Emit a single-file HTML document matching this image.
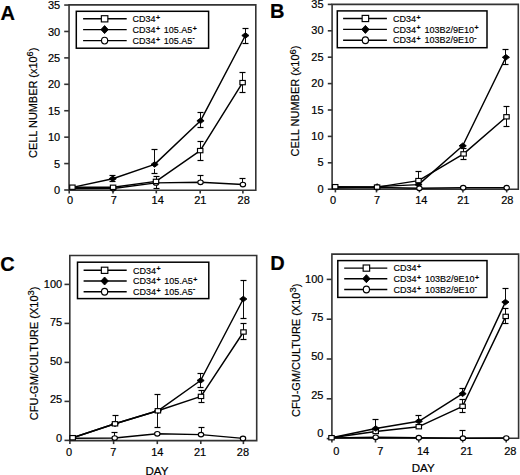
<!DOCTYPE html>
<html><head><meta charset="utf-8"><style>
html,body{margin:0;padding:0;background:#fff;}
svg{display:block;font-family:"Liberation Sans", sans-serif;}
text{fill:#000;stroke:#000;stroke-width:0.2px;}
text.lg{stroke-width:0.15px;}
</style></head><body>
<svg width="520" height="475" viewBox="0 0 520 475">
<rect width="520" height="475" fill="#fff"/>
<path d="M69.05,4.9 H255.8 V190.2 H69.05 Z" fill="none" stroke="#333" stroke-width="1.6"/>
<line x1="64.2" y1="190" x2="69.05" y2="190" stroke="#333" stroke-width="1.6"/>
<text x="60.2" y="194.1" font-size="11" text-anchor="end" font-weight="normal" >0</text>
<line x1="64.2" y1="163.58" x2="69.05" y2="163.58" stroke="#333" stroke-width="1.6"/>
<text x="60.2" y="167.68" font-size="11" text-anchor="end" font-weight="normal" >5</text>
<line x1="64.2" y1="137.16" x2="69.05" y2="137.16" stroke="#333" stroke-width="1.6"/>
<text x="60.2" y="141.26" font-size="11" text-anchor="end" font-weight="normal" >10</text>
<line x1="64.2" y1="110.74" x2="69.05" y2="110.74" stroke="#333" stroke-width="1.6"/>
<text x="60.2" y="114.84" font-size="11" text-anchor="end" font-weight="normal" >15</text>
<line x1="64.2" y1="84.31" x2="69.05" y2="84.31" stroke="#333" stroke-width="1.6"/>
<text x="60.2" y="88.41" font-size="11" text-anchor="end" font-weight="normal" >20</text>
<line x1="64.2" y1="57.89" x2="69.05" y2="57.89" stroke="#333" stroke-width="1.6"/>
<text x="60.2" y="61.99" font-size="11" text-anchor="end" font-weight="normal" >25</text>
<line x1="64.2" y1="31.47" x2="69.05" y2="31.47" stroke="#333" stroke-width="1.6"/>
<text x="60.2" y="35.57" font-size="11" text-anchor="end" font-weight="normal" >30</text>
<line x1="64.2" y1="5.05" x2="69.05" y2="5.05" stroke="#333" stroke-width="1.6"/>
<text x="60.2" y="9.15" font-size="11" text-anchor="end" font-weight="normal" >35</text>
<line x1="69.2" y1="190.2" x2="69.2" y2="193.4" stroke="#333" stroke-width="1.6"/>
<text x="70" y="203.6" font-size="11" text-anchor="middle" font-weight="normal" >0</text>
<line x1="113" y1="190.2" x2="113" y2="193.4" stroke="#333" stroke-width="1.6"/>
<text x="113.8" y="203.6" font-size="11" text-anchor="middle" font-weight="normal" >7</text>
<line x1="156.3" y1="190.2" x2="156.3" y2="193.4" stroke="#333" stroke-width="1.6"/>
<text x="157.7" y="203.6" font-size="11" text-anchor="middle" font-weight="normal" >14</text>
<line x1="200.2" y1="190.2" x2="200.2" y2="193.4" stroke="#333" stroke-width="1.6"/>
<text x="200.3" y="203.6" font-size="11" text-anchor="middle" font-weight="normal" >21</text>
<line x1="242.9" y1="190.2" x2="242.9" y2="193.4" stroke="#333" stroke-width="1.6"/>
<text x="243.7" y="203.6" font-size="11" text-anchor="middle" font-weight="normal" >28</text>
<text transform="translate(36.5,157.9) rotate(-90)" font-size="11" textLength="110.3" lengthAdjust="spacingAndGlyphs">CELL NUMBER (x10<tspan dy="-3.6" font-size="9.4">6</tspan><tspan dy="3.6">)</tspan></text>
<text x="0.6" y="19.9" font-size="20" text-anchor="start" font-weight="bold" >A</text>
<rect x="76.3" y="11.3" width="132.3" height="36.9" fill="#fff" stroke="#000" stroke-width="1.5"/>
<line x1="83.1" y1="18.8" x2="126.7" y2="18.8" stroke="#000" stroke-width="1.4"/>
<rect x="101.35" y="15.7" width="6.5" height="6.2" fill="#fff" stroke="#000" stroke-width="1.15"/>
<text x="132.4" y="22" font-size="9" text-anchor="start" font-weight="normal" class="lg">CD34<tspan dx="0.5" dy="-2.2" font-size="7" font-weight="bold">+</tspan></text>
<line x1="83.1" y1="29.6" x2="126.7" y2="29.6" stroke="#000" stroke-width="1.4"/>
<polygon points="104.6,25.6 108.3,29.6 104.6,33.6 100.9,29.6" fill="#000" stroke="#000" stroke-width="0.9" stroke-linejoin="round"/>
<text x="132.4" y="32.8" font-size="9" text-anchor="start" font-weight="normal" class="lg">CD34<tspan dx="0.5" dy="-2.2" font-size="7" font-weight="bold">+</tspan><tspan dy="2.2" dx="1.3"> 105.A5</tspan><tspan dx="0.5" dy="-2.2" font-size="7" font-weight="bold">+</tspan></text>
<line x1="83.1" y1="40.6" x2="126.7" y2="40.6" stroke="#000" stroke-width="1.4"/>
<ellipse cx="104.6" cy="40.6" rx="3.1" ry="3.35" fill="#fff" stroke="#000" stroke-width="1.15"/>
<text x="132.4" y="43.8" font-size="9" text-anchor="start" font-weight="normal" class="lg">CD34<tspan dx="0.5" dy="-2.2" font-size="7" font-weight="bold">+</tspan><tspan dy="2.2" dx="1.3"> 105.A5</tspan><tspan dy="-3.6" font-size="7.5" font-weight="bold">-</tspan></text>
<polyline points="72.4,188.7 113.1,188.5 156,182.9 200.5,182.3 242.9,184.5" fill="none" stroke="#000" stroke-width="1.45" stroke-linejoin="round"/>
<polyline points="72.4,187.2 113.1,187.3 156,181.4 200.2,150.6 242.6,82.6" fill="none" stroke="#000" stroke-width="1.45" stroke-linejoin="round"/>
<polyline points="72.4,187.4 112.7,178.7 154.6,164.4 200.5,120.8 245.4,35.5" fill="none" stroke="#000" stroke-width="1.45" stroke-linejoin="round"/>
<line x1="156.5" y1="182.9" x2="156.5" y2="188.5" stroke="#000" stroke-width="0.95"/>
<line x1="153.5" y1="188.5" x2="159.5" y2="188.5" stroke="#000" stroke-width="1.2"/>
<line x1="200.5" y1="182.3" x2="200.5" y2="175.5" stroke="#000" stroke-width="0.95"/>
<line x1="197.5" y1="175.5" x2="203.5" y2="175.5" stroke="#000" stroke-width="1.2"/>
<line x1="242.5" y1="184.5" x2="242.5" y2="178.5" stroke="#000" stroke-width="0.95"/>
<line x1="239.5" y1="178.5" x2="245.5" y2="178.5" stroke="#000" stroke-width="1.2"/>
<line x1="156.5" y1="181.4" x2="156.5" y2="176.5" stroke="#000" stroke-width="0.95"/>
<line x1="153.5" y1="176.5" x2="159.5" y2="176.5" stroke="#000" stroke-width="1.2"/>
<line x1="200.5" y1="150.6" x2="200.5" y2="141.5" stroke="#000" stroke-width="0.95"/>
<line x1="197.5" y1="141.5" x2="203.5" y2="141.5" stroke="#000" stroke-width="1.2"/>
<line x1="200.5" y1="150.6" x2="200.5" y2="160.5" stroke="#000" stroke-width="0.95"/>
<line x1="197.5" y1="160.5" x2="203.5" y2="160.5" stroke="#000" stroke-width="1.2"/>
<line x1="242.5" y1="82.6" x2="242.5" y2="72.5" stroke="#000" stroke-width="0.95"/>
<line x1="239.5" y1="72.5" x2="245.5" y2="72.5" stroke="#000" stroke-width="1.2"/>
<line x1="242.5" y1="82.6" x2="242.5" y2="92.5" stroke="#000" stroke-width="0.95"/>
<line x1="239.5" y1="92.5" x2="245.5" y2="92.5" stroke="#000" stroke-width="1.2"/>
<line x1="112.5" y1="178.7" x2="112.5" y2="175.5" stroke="#000" stroke-width="0.95"/>
<line x1="109.5" y1="175.5" x2="115.5" y2="175.5" stroke="#000" stroke-width="1.2"/>
<line x1="112.5" y1="178.7" x2="112.5" y2="181.5" stroke="#000" stroke-width="0.95"/>
<line x1="109.5" y1="181.5" x2="115.5" y2="181.5" stroke="#000" stroke-width="1.2"/>
<line x1="154.5" y1="164.4" x2="154.5" y2="149.5" stroke="#000" stroke-width="0.95"/>
<line x1="151.5" y1="149.5" x2="157.5" y2="149.5" stroke="#000" stroke-width="1.2"/>
<line x1="154.5" y1="169" x2="154.5" y2="173.5" stroke="#000" stroke-width="0.95"/>
<line x1="151.5" y1="173.5" x2="157.5" y2="173.5" stroke="#000" stroke-width="1.2"/>
<line x1="200.5" y1="120.8" x2="200.5" y2="112.5" stroke="#000" stroke-width="0.95"/>
<line x1="197.5" y1="112.5" x2="203.5" y2="112.5" stroke="#000" stroke-width="1.2"/>
<line x1="200.5" y1="120.8" x2="200.5" y2="127.5" stroke="#000" stroke-width="0.95"/>
<line x1="197.5" y1="127.5" x2="203.5" y2="127.5" stroke="#000" stroke-width="1.2"/>
<line x1="245.5" y1="35.5" x2="245.5" y2="28.5" stroke="#000" stroke-width="0.95"/>
<line x1="242.5" y1="28.5" x2="248.5" y2="28.5" stroke="#000" stroke-width="1.2"/>
<line x1="245.5" y1="35.5" x2="245.5" y2="43.5" stroke="#000" stroke-width="0.95"/>
<line x1="242.5" y1="43.5" x2="248.5" y2="43.5" stroke="#000" stroke-width="1.2"/>
<polygon points="112.7,175.9 116.3,178.7 112.7,181.5 109.1,178.7" fill="#000" stroke="#000" stroke-width="0.9" stroke-linejoin="round"/>
<polygon points="154.6,161.6 158.2,164.4 154.6,167.2 151,164.4" fill="#000" stroke="#000" stroke-width="0.9" stroke-linejoin="round"/>
<polygon points="200.5,118 204.1,120.8 200.5,123.6 196.9,120.8" fill="#000" stroke="#000" stroke-width="0.9" stroke-linejoin="round"/>
<polygon points="245.4,32.7 249,35.5 245.4,38.3 241.8,35.5" fill="#000" stroke="#000" stroke-width="0.9" stroke-linejoin="round"/>
<ellipse cx="113.1" cy="188.5" rx="2.7" ry="2.3" fill="#fff" stroke="#000" stroke-width="1.15"/>
<ellipse cx="156" cy="182.9" rx="2.7" ry="2.3" fill="#fff" stroke="#000" stroke-width="1.15"/>
<ellipse cx="200.5" cy="182.3" rx="2.7" ry="2.3" fill="#fff" stroke="#000" stroke-width="1.15"/>
<ellipse cx="242.9" cy="184.5" rx="2.7" ry="2.3" fill="#fff" stroke="#000" stroke-width="1.15"/>
<rect x="69.7" y="185.05" width="5.4" height="4.3" fill="#fff" stroke="#000" stroke-width="1.15"/>
<rect x="110.4" y="185.15" width="5.4" height="4.3" fill="#fff" stroke="#000" stroke-width="1.15"/>
<rect x="153.3" y="179.25" width="5.4" height="4.3" fill="#fff" stroke="#000" stroke-width="1.15"/>
<rect x="197.5" y="148.45" width="5.4" height="4.3" fill="#fff" stroke="#000" stroke-width="1.15"/>
<rect x="239.9" y="80.45" width="5.4" height="4.3" fill="#fff" stroke="#000" stroke-width="1.15"/>
<path d="M332.1,4.4 H518.3 V189.2 H332.1 Z" fill="none" stroke="#333" stroke-width="1.6"/>
<line x1="327.8" y1="189.2" x2="332.1" y2="189.2" stroke="#333" stroke-width="1.6"/>
<text x="323.6" y="192.8" font-size="11" text-anchor="end" font-weight="normal" >0</text>
<line x1="327.8" y1="162.8" x2="332.1" y2="162.8" stroke="#333" stroke-width="1.6"/>
<text x="323.6" y="166.4" font-size="11" text-anchor="end" font-weight="normal" >5</text>
<line x1="327.8" y1="136.4" x2="332.1" y2="136.4" stroke="#333" stroke-width="1.6"/>
<text x="323.6" y="140" font-size="11" text-anchor="end" font-weight="normal" >10</text>
<line x1="327.8" y1="110" x2="332.1" y2="110" stroke="#333" stroke-width="1.6"/>
<text x="323.6" y="113.6" font-size="11" text-anchor="end" font-weight="normal" >15</text>
<line x1="327.8" y1="83.6" x2="332.1" y2="83.6" stroke="#333" stroke-width="1.6"/>
<text x="323.6" y="87.2" font-size="11" text-anchor="end" font-weight="normal" >20</text>
<line x1="327.8" y1="57.2" x2="332.1" y2="57.2" stroke="#333" stroke-width="1.6"/>
<text x="323.6" y="60.8" font-size="11" text-anchor="end" font-weight="normal" >25</text>
<line x1="327.8" y1="30.8" x2="332.1" y2="30.8" stroke="#333" stroke-width="1.6"/>
<text x="323.6" y="34.4" font-size="11" text-anchor="end" font-weight="normal" >30</text>
<line x1="327.8" y1="4.4" x2="332.1" y2="4.4" stroke="#333" stroke-width="1.6"/>
<text x="323.6" y="8" font-size="11" text-anchor="end" font-weight="normal" >35</text>
<line x1="335.4" y1="189.2" x2="335.4" y2="192.4" stroke="#333" stroke-width="1.6"/>
<text x="333" y="203.9" font-size="11" text-anchor="middle" font-weight="normal" >0</text>
<line x1="376.5" y1="189.2" x2="376.5" y2="192.4" stroke="#333" stroke-width="1.6"/>
<text x="377" y="203.9" font-size="11" text-anchor="middle" font-weight="normal" >7</text>
<line x1="419.4" y1="189.2" x2="419.4" y2="192.4" stroke="#333" stroke-width="1.6"/>
<text x="421.3" y="203.9" font-size="11" text-anchor="middle" font-weight="normal" >14</text>
<line x1="462.9" y1="189.2" x2="462.9" y2="192.4" stroke="#333" stroke-width="1.6"/>
<text x="463.3" y="203.9" font-size="11" text-anchor="middle" font-weight="normal" >21</text>
<line x1="506.7" y1="189.2" x2="506.7" y2="192.4" stroke="#333" stroke-width="1.6"/>
<text x="507.3" y="203.9" font-size="11" text-anchor="middle" font-weight="normal" >28</text>
<text transform="translate(299.3,156.5) rotate(-90)" font-size="11" textLength="110.9" lengthAdjust="spacingAndGlyphs">CELL NUMBER (x10<tspan dy="-3.6" font-size="9.4">6</tspan><tspan dy="3.6">)</tspan></text>
<text x="270" y="18.1" font-size="20" text-anchor="start" font-weight="bold" >B</text>
<rect x="337.3" y="10.9" width="149.7" height="36.8" fill="#fff" stroke="#000" stroke-width="1.5"/>
<line x1="343.1" y1="18.5" x2="386.9" y2="18.5" stroke="#000" stroke-width="1.4"/>
<rect x="362.15" y="15.4" width="6.5" height="6.2" fill="#fff" stroke="#000" stroke-width="1.15"/>
<text x="393.1" y="21.7" font-size="9" text-anchor="start" font-weight="normal" class="lg">CD34<tspan dx="0.5" dy="-2.2" font-size="7" font-weight="bold">+</tspan></text>
<line x1="343.1" y1="29.4" x2="386.9" y2="29.4" stroke="#000" stroke-width="1.4"/>
<polygon points="365.4,25.4 369.1,29.4 365.4,33.4 361.7,29.4" fill="#000" stroke="#000" stroke-width="0.9" stroke-linejoin="round"/>
<text x="393.1" y="32.6" font-size="9" text-anchor="start" font-weight="normal" class="lg">CD34<tspan dx="0.5" dy="-2.2" font-size="7" font-weight="bold">+</tspan><tspan dy="2.2" dx="1.3"> 103B2/9E10</tspan><tspan dx="0.5" dy="-2.2" font-size="7" font-weight="bold">+</tspan></text>
<line x1="343.1" y1="40.2" x2="386.9" y2="40.2" stroke="#000" stroke-width="1.4"/>
<ellipse cx="365.4" cy="40.2" rx="3.1" ry="3.35" fill="#fff" stroke="#000" stroke-width="1.15"/>
<text x="393.1" y="43.4" font-size="9" text-anchor="start" font-weight="normal" class="lg">CD34<tspan dx="0.5" dy="-2.2" font-size="7" font-weight="bold">+</tspan><tspan dy="2.2" dx="1.3"> 103B2/9E10</tspan><tspan dy="-3.6" font-size="7.5" font-weight="bold">-</tspan></text>
<polyline points="335.2,188 377.1,187.5 419.4,188.3 463.2,187.7 506.7,187.7" fill="none" stroke="#000" stroke-width="1.45" stroke-linejoin="round"/>
<polyline points="335.2,186.7 377.1,187.1 418.5,180.6 463.6,153.9 506.5,116.8" fill="none" stroke="#000" stroke-width="1.45" stroke-linejoin="round"/>
<polyline points="335.2,187.2 377.1,186.6 418.5,184.6 462.7,145.8 505.9,57.3" fill="none" stroke="#000" stroke-width="1.45" stroke-linejoin="round"/>
<line x1="418.5" y1="180.6" x2="418.5" y2="171.5" stroke="#000" stroke-width="0.95"/>
<line x1="415.5" y1="171.5" x2="421.5" y2="171.5" stroke="#000" stroke-width="1.2"/>
<line x1="463.5" y1="153.9" x2="463.5" y2="148.5" stroke="#000" stroke-width="0.95"/>
<line x1="460.5" y1="148.5" x2="466.5" y2="148.5" stroke="#000" stroke-width="1.2"/>
<line x1="463.5" y1="153.9" x2="463.5" y2="159.5" stroke="#000" stroke-width="0.95"/>
<line x1="460.5" y1="159.5" x2="466.5" y2="159.5" stroke="#000" stroke-width="1.2"/>
<line x1="506.5" y1="116.8" x2="506.5" y2="106.5" stroke="#000" stroke-width="0.95"/>
<line x1="503.5" y1="106.5" x2="509.5" y2="106.5" stroke="#000" stroke-width="1.2"/>
<line x1="506.5" y1="116.8" x2="506.5" y2="126.5" stroke="#000" stroke-width="0.95"/>
<line x1="503.5" y1="126.5" x2="509.5" y2="126.5" stroke="#000" stroke-width="1.2"/>
<line x1="505.5" y1="57.3" x2="505.5" y2="49.5" stroke="#000" stroke-width="0.95"/>
<line x1="502.5" y1="49.5" x2="508.5" y2="49.5" stroke="#000" stroke-width="1.2"/>
<line x1="505.5" y1="57.3" x2="505.5" y2="64.5" stroke="#000" stroke-width="0.95"/>
<line x1="502.5" y1="64.5" x2="508.5" y2="64.5" stroke="#000" stroke-width="1.2"/>
<polygon points="377.1,183.8 380.7,186.6 377.1,189.4 373.5,186.6" fill="#000" stroke="#000" stroke-width="0.9" stroke-linejoin="round"/>
<polygon points="418.5,181.8 422.1,184.6 418.5,187.4 414.9,184.6" fill="#000" stroke="#000" stroke-width="0.9" stroke-linejoin="round"/>
<polygon points="462.7,143 466.3,145.8 462.7,148.6 459.1,145.8" fill="#000" stroke="#000" stroke-width="0.9" stroke-linejoin="round"/>
<polygon points="505.9,54.5 509.5,57.3 505.9,60.1 502.3,57.3" fill="#000" stroke="#000" stroke-width="0.9" stroke-linejoin="round"/>
<ellipse cx="377.1" cy="187.5" rx="2.7" ry="2.3" fill="#fff" stroke="#000" stroke-width="1.15"/>
<ellipse cx="419.4" cy="188.3" rx="2.7" ry="2.3" fill="#fff" stroke="#000" stroke-width="1.15"/>
<ellipse cx="463.2" cy="187.7" rx="2.7" ry="2.3" fill="#fff" stroke="#000" stroke-width="1.15"/>
<ellipse cx="506.7" cy="187.7" rx="2.7" ry="2.3" fill="#fff" stroke="#000" stroke-width="1.15"/>
<rect x="332.5" y="184.55" width="5.4" height="4.3" fill="#fff" stroke="#000" stroke-width="1.15"/>
<rect x="374.4" y="184.95" width="5.4" height="4.3" fill="#fff" stroke="#000" stroke-width="1.15"/>
<rect x="415.8" y="178.45" width="5.4" height="4.3" fill="#fff" stroke="#000" stroke-width="1.15"/>
<rect x="460.9" y="151.75" width="5.4" height="4.3" fill="#fff" stroke="#000" stroke-width="1.15"/>
<rect x="503.8" y="114.65" width="5.4" height="4.3" fill="#fff" stroke="#000" stroke-width="1.15"/>
<path d="M69.8,255.5 H256.7 V440.6 H69.8 Z" fill="none" stroke="#333" stroke-width="1.6"/>
<line x1="64.5" y1="440.4" x2="69.8" y2="440.4" stroke="#333" stroke-width="1.6"/>
<text x="62.2" y="441.8" font-size="11" text-anchor="end" font-weight="normal" >0</text>
<line x1="64.5" y1="401.4" x2="69.8" y2="401.4" stroke="#333" stroke-width="1.6"/>
<text x="62.2" y="403.4" font-size="11" text-anchor="end" font-weight="normal" >25</text>
<line x1="64.5" y1="362.4" x2="69.8" y2="362.4" stroke="#333" stroke-width="1.6"/>
<text x="62.2" y="364.9" font-size="11" text-anchor="end" font-weight="normal" >50</text>
<line x1="64.5" y1="323.4" x2="69.8" y2="323.4" stroke="#333" stroke-width="1.6"/>
<text x="62.2" y="326.4" font-size="11" text-anchor="end" font-weight="normal" >75</text>
<line x1="64.5" y1="284.4" x2="69.8" y2="284.4" stroke="#333" stroke-width="1.6"/>
<text x="62.2" y="287.55" font-size="11" text-anchor="end" font-weight="normal" >100</text>
<line x1="69.9" y1="440.6" x2="69.9" y2="444.1" stroke="#333" stroke-width="1.6"/>
<text x="69" y="455.8" font-size="11" text-anchor="middle" font-weight="normal" >0</text>
<line x1="113.6" y1="440.6" x2="113.6" y2="444.1" stroke="#333" stroke-width="1.6"/>
<text x="113.2" y="455.8" font-size="11" text-anchor="middle" font-weight="normal" >7</text>
<line x1="157.3" y1="440.6" x2="157.3" y2="444.1" stroke="#333" stroke-width="1.6"/>
<text x="157.3" y="455.8" font-size="11" text-anchor="middle" font-weight="normal" >14</text>
<line x1="200.8" y1="440.6" x2="200.8" y2="444.1" stroke="#333" stroke-width="1.6"/>
<text x="200" y="455.8" font-size="11" text-anchor="middle" font-weight="normal" >21</text>
<line x1="243.4" y1="440.6" x2="243.4" y2="444.1" stroke="#333" stroke-width="1.6"/>
<text x="242.9" y="455.8" font-size="11" text-anchor="middle" font-weight="normal" >28</text>
<text transform="translate(38,420.3) rotate(-90)" font-size="11" textLength="133.8" lengthAdjust="spacingAndGlyphs">CFU-GM/CULTURE (X10<tspan dy="-3.6" font-size="9.4">3</tspan><tspan dy="3.6">)</tspan></text>
<text x="157" y="474.6" font-size="11.6" text-anchor="middle" font-weight="normal" >DAY</text>
<text x="0.3" y="270.6" font-size="20" text-anchor="start" font-weight="bold" >C</text>
<rect x="77.5" y="262.2" width="131.3" height="36.4" fill="#fff" stroke="#000" stroke-width="1.5"/>
<line x1="83.6" y1="270.3" x2="126.7" y2="270.3" stroke="#000" stroke-width="1.4"/>
<rect x="101.35" y="267.2" width="6.5" height="6.2" fill="#fff" stroke="#000" stroke-width="1.15"/>
<text x="132.9" y="273.5" font-size="9" text-anchor="start" font-weight="normal" class="lg">CD34<tspan dx="0.5" dy="-2.2" font-size="7" font-weight="bold">+</tspan></text>
<line x1="83.6" y1="281" x2="126.7" y2="281" stroke="#000" stroke-width="1.4"/>
<polygon points="104.6,277 108.3,281 104.6,285 100.9,281" fill="#000" stroke="#000" stroke-width="0.9" stroke-linejoin="round"/>
<text x="132.9" y="284.2" font-size="9" text-anchor="start" font-weight="normal" class="lg">CD34<tspan dx="0.5" dy="-2.2" font-size="7" font-weight="bold">+</tspan><tspan dy="2.2" dx="1.3"> 105.A5</tspan><tspan dx="0.5" dy="-2.2" font-size="7" font-weight="bold">+</tspan></text>
<line x1="83.6" y1="291.8" x2="126.7" y2="291.8" stroke="#000" stroke-width="1.4"/>
<ellipse cx="104.6" cy="291.8" rx="3.1" ry="3.35" fill="#fff" stroke="#000" stroke-width="1.15"/>
<text x="132.9" y="295" font-size="9" text-anchor="start" font-weight="normal" class="lg">CD34<tspan dx="0.5" dy="-2.2" font-size="7" font-weight="bold">+</tspan><tspan dy="2.2" dx="1.3"> 105.A5</tspan><tspan dy="-3.6" font-size="7.5" font-weight="bold">-</tspan></text>
<polyline points="72.7,438.2 114.7,438 157.3,433.8 201,434.6 243,438.4" fill="none" stroke="#000" stroke-width="1.45" stroke-linejoin="round"/>
<polyline points="72.7,437.7 115,423.8 157.9,410.8 201,396.4 243.5,332" fill="none" stroke="#000" stroke-width="1.45" stroke-linejoin="round"/>
<polyline points="72.7,437.7 115,423.8 157.9,410.8 200.6,380.5 243.3,299" fill="none" stroke="#000" stroke-width="1.45" stroke-linejoin="round"/>
<line x1="114.5" y1="438" x2="114.5" y2="432.5" stroke="#000" stroke-width="0.95"/>
<line x1="111.5" y1="432.5" x2="117.5" y2="432.5" stroke="#000" stroke-width="1.2"/>
<line x1="201.5" y1="434.6" x2="201.5" y2="427.5" stroke="#000" stroke-width="0.95"/>
<line x1="198.5" y1="427.5" x2="204.5" y2="427.5" stroke="#000" stroke-width="1.2"/>
<line x1="115.5" y1="423.8" x2="115.5" y2="415.5" stroke="#000" stroke-width="0.95"/>
<line x1="112.5" y1="415.5" x2="118.5" y2="415.5" stroke="#000" stroke-width="1.2"/>
<line x1="157.5" y1="410.8" x2="157.5" y2="394.5" stroke="#000" stroke-width="0.95"/>
<line x1="154.5" y1="394.5" x2="160.5" y2="394.5" stroke="#000" stroke-width="1.2"/>
<line x1="157.5" y1="410.8" x2="157.5" y2="427.5" stroke="#000" stroke-width="0.95"/>
<line x1="154.5" y1="427.5" x2="160.5" y2="427.5" stroke="#000" stroke-width="1.2"/>
<line x1="201.5" y1="396.4" x2="201.5" y2="390.5" stroke="#000" stroke-width="0.95"/>
<line x1="198.5" y1="390.5" x2="204.5" y2="390.5" stroke="#000" stroke-width="1.2"/>
<line x1="201.5" y1="396.4" x2="201.5" y2="402.5" stroke="#000" stroke-width="0.95"/>
<line x1="198.5" y1="402.5" x2="204.5" y2="402.5" stroke="#000" stroke-width="1.2"/>
<line x1="243.5" y1="332" x2="243.5" y2="323.5" stroke="#000" stroke-width="0.95"/>
<line x1="240.5" y1="323.5" x2="246.5" y2="323.5" stroke="#000" stroke-width="1.2"/>
<line x1="243.5" y1="332" x2="243.5" y2="339.5" stroke="#000" stroke-width="0.95"/>
<line x1="240.5" y1="339.5" x2="246.5" y2="339.5" stroke="#000" stroke-width="1.2"/>
<line x1="200.5" y1="380.5" x2="200.5" y2="373.5" stroke="#000" stroke-width="0.95"/>
<line x1="197.5" y1="373.5" x2="203.5" y2="373.5" stroke="#000" stroke-width="1.2"/>
<line x1="200.5" y1="380.5" x2="200.5" y2="387.5" stroke="#000" stroke-width="0.95"/>
<line x1="197.5" y1="387.5" x2="203.5" y2="387.5" stroke="#000" stroke-width="1.2"/>
<line x1="243.5" y1="299" x2="243.5" y2="280.5" stroke="#000" stroke-width="0.95"/>
<line x1="240.5" y1="280.5" x2="246.5" y2="280.5" stroke="#000" stroke-width="1.2"/>
<line x1="243.5" y1="299" x2="243.5" y2="318.5" stroke="#000" stroke-width="0.95"/>
<line x1="240.5" y1="318.5" x2="246.5" y2="318.5" stroke="#000" stroke-width="1.2"/>
<polygon points="115,421 118.6,423.8 115,426.6 111.4,423.8" fill="#000" stroke="#000" stroke-width="0.9" stroke-linejoin="round"/>
<polygon points="157.9,408 161.5,410.8 157.9,413.6 154.3,410.8" fill="#000" stroke="#000" stroke-width="0.9" stroke-linejoin="round"/>
<polygon points="200.6,377.7 204.2,380.5 200.6,383.3 197,380.5" fill="#000" stroke="#000" stroke-width="0.9" stroke-linejoin="round"/>
<polygon points="243.3,296.2 246.9,299 243.3,301.8 239.7,299" fill="#000" stroke="#000" stroke-width="0.9" stroke-linejoin="round"/>
<ellipse cx="114.7" cy="438" rx="2.7" ry="2.3" fill="#fff" stroke="#000" stroke-width="1.15"/>
<ellipse cx="157.3" cy="433.8" rx="2.7" ry="2.3" fill="#fff" stroke="#000" stroke-width="1.15"/>
<ellipse cx="201" cy="434.6" rx="2.7" ry="2.3" fill="#fff" stroke="#000" stroke-width="1.15"/>
<ellipse cx="243" cy="438.4" rx="2.7" ry="2.3" fill="#fff" stroke="#000" stroke-width="1.15"/>
<rect x="70" y="435.55" width="5.4" height="4.3" fill="#fff" stroke="#000" stroke-width="1.15"/>
<rect x="112.3" y="421.65" width="5.4" height="4.3" fill="#fff" stroke="#000" stroke-width="1.15"/>
<rect x="155.2" y="408.65" width="5.4" height="4.3" fill="#fff" stroke="#000" stroke-width="1.15"/>
<rect x="198.3" y="394.25" width="5.4" height="4.3" fill="#fff" stroke="#000" stroke-width="1.15"/>
<rect x="240.8" y="329.85" width="5.4" height="4.3" fill="#fff" stroke="#000" stroke-width="1.15"/>
<path d="M331.9,254.1 H518.6 V438.3 H331.9 Z" fill="none" stroke="#333" stroke-width="1.6"/>
<line x1="326.7" y1="438.6" x2="331.9" y2="438.6" stroke="#333" stroke-width="1.6"/>
<text x="323.4" y="436.8" font-size="11" text-anchor="end" font-weight="normal" >0</text>
<line x1="326.7" y1="398.8" x2="331.9" y2="398.8" stroke="#333" stroke-width="1.6"/>
<text x="323.4" y="398.5" font-size="11" text-anchor="end" font-weight="normal" >25</text>
<line x1="326.7" y1="359" x2="331.9" y2="359" stroke="#333" stroke-width="1.6"/>
<text x="323.4" y="359.9" font-size="11" text-anchor="end" font-weight="normal" >50</text>
<line x1="326.7" y1="319.2" x2="331.9" y2="319.2" stroke="#333" stroke-width="1.6"/>
<text x="323.4" y="321.3" font-size="11" text-anchor="end" font-weight="normal" >75</text>
<line x1="326.7" y1="279.4" x2="331.9" y2="279.4" stroke="#333" stroke-width="1.6"/>
<text x="323.4" y="282.8" font-size="11" text-anchor="end" font-weight="normal" >100</text>
<line x1="331.9" y1="438.3" x2="331.9" y2="442.5" stroke="#333" stroke-width="1.6"/>
<text x="336.4" y="454.8" font-size="11" text-anchor="middle" font-weight="normal" >0</text>
<line x1="375.5" y1="438.3" x2="375.5" y2="442.5" stroke="#333" stroke-width="1.6"/>
<text x="380.3" y="454.8" font-size="11" text-anchor="middle" font-weight="normal" >7</text>
<line x1="418.8" y1="438.3" x2="418.8" y2="442.5" stroke="#333" stroke-width="1.6"/>
<text x="423" y="454.8" font-size="11" text-anchor="middle" font-weight="normal" >14</text>
<line x1="462.7" y1="438.3" x2="462.7" y2="442.5" stroke="#333" stroke-width="1.6"/>
<text x="466.6" y="454.8" font-size="11" text-anchor="middle" font-weight="normal" >21</text>
<line x1="506.2" y1="438.3" x2="506.2" y2="442.5" stroke="#333" stroke-width="1.6"/>
<text x="510.3" y="454.8" font-size="11" text-anchor="middle" font-weight="normal" >28</text>
<text transform="translate(300,416.9) rotate(-90)" font-size="11" textLength="133.2" lengthAdjust="spacingAndGlyphs">CFU-GM/CULTURE (X10<tspan dy="-3.6" font-size="9.4">3</tspan><tspan dy="3.6">)</tspan></text>
<text x="423.2" y="472.3" font-size="11.6" text-anchor="middle" font-weight="normal" >DAY</text>
<text x="270.3" y="269.6" font-size="20" text-anchor="start" font-weight="bold" >D</text>
<rect x="337.8" y="260.6" width="149.2" height="36.8" fill="#fff" stroke="#000" stroke-width="1.5"/>
<line x1="344.2" y1="268.1" x2="387.3" y2="268.1" stroke="#000" stroke-width="1.4"/>
<rect x="363.15" y="265" width="6.5" height="6.2" fill="#fff" stroke="#000" stroke-width="1.15"/>
<text x="393.5" y="271.3" font-size="9" text-anchor="start" font-weight="normal" class="lg">CD34<tspan dx="0.5" dy="-2.2" font-size="7" font-weight="bold">+</tspan></text>
<line x1="344.2" y1="278.7" x2="387.3" y2="278.7" stroke="#000" stroke-width="1.4"/>
<polygon points="366.4,274.7 370.1,278.7 366.4,282.7 362.7,278.7" fill="#000" stroke="#000" stroke-width="0.9" stroke-linejoin="round"/>
<text x="393.5" y="281.9" font-size="9" text-anchor="start" font-weight="normal" class="lg">CD34<tspan dx="0.5" dy="-2.2" font-size="7" font-weight="bold">+</tspan><tspan dy="2.2" dx="1.3"> 103B2/9E10</tspan><tspan dx="0.5" dy="-2.2" font-size="7" font-weight="bold">+</tspan></text>
<line x1="344.2" y1="289.5" x2="387.3" y2="289.5" stroke="#000" stroke-width="1.4"/>
<ellipse cx="366.4" cy="289.5" rx="3.1" ry="3.35" fill="#fff" stroke="#000" stroke-width="1.15"/>
<text x="393.5" y="292.7" font-size="9" text-anchor="start" font-weight="normal" class="lg">CD34<tspan dx="0.5" dy="-2.2" font-size="7" font-weight="bold">+</tspan><tspan dy="2.2" dx="1.3"> 103B2/9E10</tspan><tspan dy="-3.6" font-size="7.5" font-weight="bold">-</tspan></text>
<polyline points="331.5,437.9 375.7,437.3 418.8,437.7 462.9,438.2 506.3,438" fill="none" stroke="#000" stroke-width="1.45" stroke-linejoin="round"/>
<polyline points="331.5,437.7 375.7,431.5 418.8,426.7 462.6,406.3 505.7,316.4" fill="none" stroke="#000" stroke-width="1.45" stroke-linejoin="round"/>
<polyline points="331.5,437.7 375.7,428.5 418.8,421.3 462.6,393.7 505.4,302.1" fill="none" stroke="#000" stroke-width="1.45" stroke-linejoin="round"/>
<line x1="462.5" y1="438.2" x2="462.5" y2="430.5" stroke="#000" stroke-width="0.95"/>
<line x1="459.5" y1="430.5" x2="465.5" y2="430.5" stroke="#000" stroke-width="1.2"/>
<line x1="462.5" y1="406.3" x2="462.5" y2="399.5" stroke="#000" stroke-width="0.95"/>
<line x1="459.5" y1="399.5" x2="465.5" y2="399.5" stroke="#000" stroke-width="1.2"/>
<line x1="462.5" y1="406.3" x2="462.5" y2="412.5" stroke="#000" stroke-width="0.95"/>
<line x1="459.5" y1="412.5" x2="465.5" y2="412.5" stroke="#000" stroke-width="1.2"/>
<line x1="505.5" y1="316.4" x2="505.5" y2="308.5" stroke="#000" stroke-width="0.95"/>
<line x1="502.5" y1="308.5" x2="508.5" y2="308.5" stroke="#000" stroke-width="1.2"/>
<line x1="505.5" y1="316.4" x2="505.5" y2="323.5" stroke="#000" stroke-width="0.95"/>
<line x1="502.5" y1="323.5" x2="508.5" y2="323.5" stroke="#000" stroke-width="1.2"/>
<line x1="375.5" y1="428.5" x2="375.5" y2="419.5" stroke="#000" stroke-width="0.95"/>
<line x1="372.5" y1="419.5" x2="378.5" y2="419.5" stroke="#000" stroke-width="1.2"/>
<line x1="418.5" y1="421.3" x2="418.5" y2="415.5" stroke="#000" stroke-width="0.95"/>
<line x1="415.5" y1="415.5" x2="421.5" y2="415.5" stroke="#000" stroke-width="1.2"/>
<line x1="462.5" y1="393.7" x2="462.5" y2="388.5" stroke="#000" stroke-width="0.95"/>
<line x1="459.5" y1="388.5" x2="465.5" y2="388.5" stroke="#000" stroke-width="1.2"/>
<line x1="505.5" y1="302.1" x2="505.5" y2="288.5" stroke="#000" stroke-width="0.95"/>
<line x1="502.5" y1="288.5" x2="508.5" y2="288.5" stroke="#000" stroke-width="1.2"/>
<ellipse cx="375.7" cy="437.3" rx="2.7" ry="2.3" fill="#fff" stroke="#000" stroke-width="1.15"/>
<ellipse cx="418.8" cy="437.7" rx="2.7" ry="2.3" fill="#fff" stroke="#000" stroke-width="1.15"/>
<ellipse cx="462.9" cy="438.2" rx="2.7" ry="2.3" fill="#fff" stroke="#000" stroke-width="1.15"/>
<ellipse cx="506.3" cy="438" rx="2.7" ry="2.3" fill="#fff" stroke="#000" stroke-width="1.15"/>
<rect x="328.8" y="435.55" width="5.4" height="4.3" fill="#fff" stroke="#000" stroke-width="1.15"/>
<rect x="373" y="429.35" width="5.4" height="4.3" fill="#fff" stroke="#000" stroke-width="1.15"/>
<rect x="416.1" y="424.55" width="5.4" height="4.3" fill="#fff" stroke="#000" stroke-width="1.15"/>
<rect x="459.9" y="404.15" width="5.4" height="4.3" fill="#fff" stroke="#000" stroke-width="1.15"/>
<rect x="503" y="314.25" width="5.4" height="4.3" fill="#fff" stroke="#000" stroke-width="1.15"/>
<polygon points="375.7,425.7 379.3,428.5 375.7,431.3 372.1,428.5" fill="#000" stroke="#000" stroke-width="0.9" stroke-linejoin="round"/>
<polygon points="418.8,418.5 422.4,421.3 418.8,424.1 415.2,421.3" fill="#000" stroke="#000" stroke-width="0.9" stroke-linejoin="round"/>
<polygon points="462.6,390.9 466.2,393.7 462.6,396.5 459,393.7" fill="#000" stroke="#000" stroke-width="0.9" stroke-linejoin="round"/>
<polygon points="505.4,299.3 509,302.1 505.4,304.9 501.8,302.1" fill="#000" stroke="#000" stroke-width="0.9" stroke-linejoin="round"/>
</svg>
</body></html>
